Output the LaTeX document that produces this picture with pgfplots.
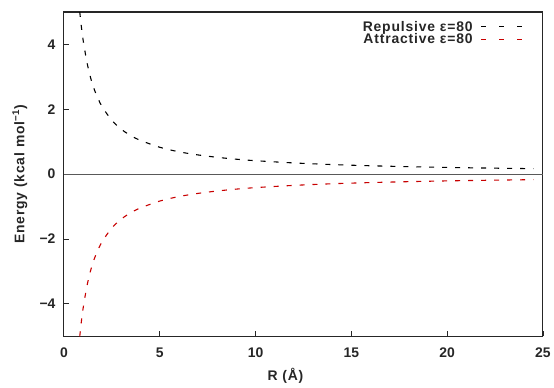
\documentclass[border=0pt]{standalone}
\usepackage{fontspec}
\setmainfont{Liberation Sans}
\newfontfamily\lsfont{Liberation Sans}[LetterSpace=6]
\usepackage{pgfplots}
\pgfplotsset{compat=1.18}
\definecolor{myred}{RGB}{200,0,0}
\begin{document}
\begin{tikzpicture}
\begin{axis}[
  scale only axis,
  width=480bp, height=325bp,
  xmin=0, xmax=25, ymin=-5, ymax=5,
  xtick={0,5,10,15,20,25},
  ytick={-4,-2,0,2,4},
  yticklabels={−4,−2,0,2,4},
  tick align=inside,
  xtick pos=bottom, ytick pos=left,
  major tick length=5bp,
  axis line style={black!85, line width=1.1pt},
  tick style={black!85, line width=0.9pt},
  /pgf/number format/assume math mode=true,
  tick label style={font=\fontsize{14}{15}\selectfont\bfseries, text=black!85},
  xticklabel style={yshift=-8bp},
  yticklabel style={xshift=-5bp},
  label style={font=\lsfont\fontsize{14}{15}\selectfont\bfseries, text=black!85},
  xlabel={R (Å)},
  ylabel={Energy (kcal mol\textsuperscript{−1})},
  xlabel style={at={(axis description cs:0.4625,-0.123)}, anchor=center},
  ylabel style={at={(axis description cs:-0.092,0.5)}, anchor=center},
  legend style={draw=none, fill=none, at={(0.958,0.985)}, anchor=north east,
    font=\lsfont\fontsize{14}{13}\selectfont\bfseries, row sep=-3bp,
    inner xsep=0pt, /tikz/column sep=6bp},
  legend cell align=right,
  legend plot pos=right,
]
\addplot[gray!70!black, line width=0.9pt, forget plot] coordinates {(0,0) (25,0)};
\addplot[black, line width=1.1pt, dash pattern=on 5bp off 8bp, smooth,
  legend image code/.code={\draw[black, line width=1.1pt, dash pattern=on 5bp off 13bp] (0bp,0bp) -- (41bp,0bp);}] coordinates {
(0.83,5.0) (0.9,4.61) (1.0,4.15) (1.2,3.46) (1.4,2.96) (1.6,2.59) (1.8,2.31) (2.0,2.075)
(2.5,1.66) (3.0,1.383) (3.5,1.186) (4.0,1.04) (5.0,0.83) (6.0,0.69) (7.0,0.593) (8.0,0.519)
(9.0,0.461) (10.0,0.415) (12.0,0.346) (14.0,0.296) (16.0,0.259) (18.0,0.231) (20.0,0.2075)
(22.0,0.189) (24.5,0.169)};
\addlegendentry{\textcolor{black!85}{Repulsive ε=80}}
\addplot[myred, line width=1.1pt, dash pattern=on 5bp off 8bp, smooth,
  legend image code/.code={\draw[myred, line width=1.1pt, dash pattern=on 5bp off 13bp] (0bp,0bp) -- (41bp,0bp);}] coordinates {
(0.83,-5.0) (0.9,-4.61) (1.0,-4.15) (1.2,-3.46) (1.4,-2.96) (1.6,-2.59) (1.8,-2.31) (2.0,-2.075)
(2.5,-1.66) (3.0,-1.383) (3.5,-1.186) (4.0,-1.04) (5.0,-0.83) (6.0,-0.69) (7.0,-0.593) (8.0,-0.519)
(9.0,-0.461) (10.0,-0.415) (12.0,-0.346) (14.0,-0.296) (16.0,-0.259) (18.0,-0.231) (20.0,-0.2075)
(22.0,-0.189) (24.5,-0.169)};
\addlegendentry{\textcolor{black!85}{Attractive ε=80}}
\end{axis}
\path[use as bounding box] (current axis.south west) ++(-64bp,-51bp) rectangle ([xshift=10bp,yshift=12bp]current axis.north east);
\end{tikzpicture}
\end{document}
